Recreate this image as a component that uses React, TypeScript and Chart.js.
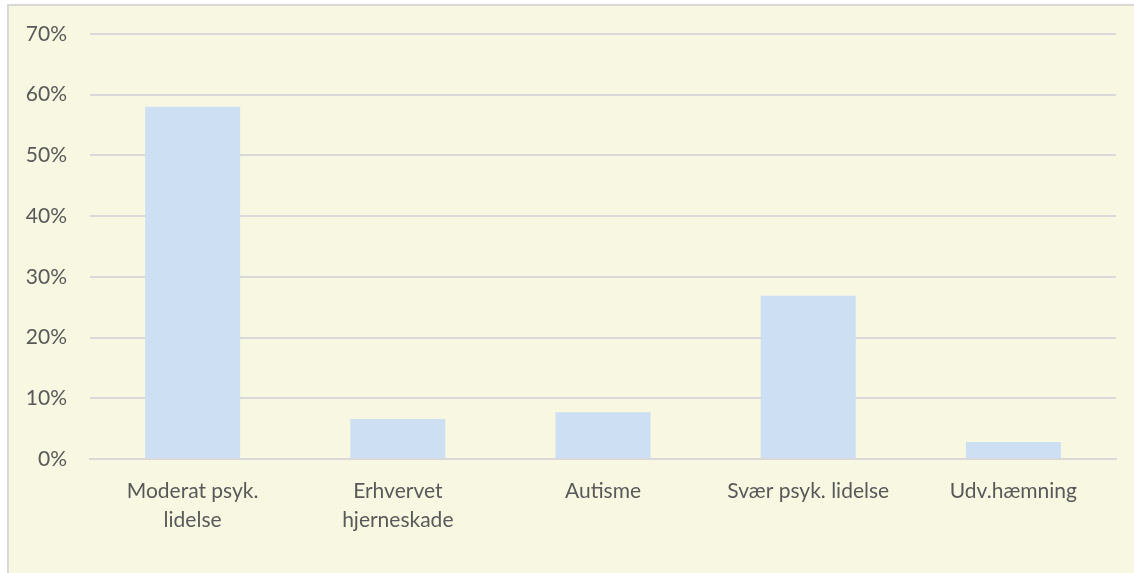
import React, { useEffect, useRef } from "react";
import { Chart, registerables } from "chart.js";

Chart.register(...registerables);

const categories: (string | string[])[] = [
  ["Moderat psyk.", "lidelse"],
  ["Erhvervet", "hjerneskade"],
  "Autisme",
  "Svær psyk. lidelse",
  "Udv.hæmning",
];
const shares: number[] = [58, 6.6, 7.7, 26.9, 2.8];
const yTickMax = 70;
const yTickStep = 10;

export default function App() {
  const ref = useRef<HTMLCanvasElement | null>(null);
  useEffect(() => {
    if (!ref.current) return;
    const chart = new Chart(ref.current, {
      type: "bar",
      data: {
        labels: categories,
        datasets: [
          {
            data: shares,
            backgroundColor: "#cddff2",
            borderWidth: 0,
            barPercentage: 0.463,
            categoryPercentage: 1,
          },
        ],
      },
      options: {
        animation: false,
        responsive: false,
        maintainAspectRatio: false,
        layout: { padding: { top: 28, right: 18, bottom: 0, left: 0 } },
        plugins: { legend: { display: false }, tooltip: { enabled: false } },
        scales: {
          x: {
            grid: { display: false },
            border: { display: true, color: "#d9d9d9", width: 2 },
            ticks: {
              color: "#595959",
              font: { family: "Lato", size: 21, lineHeight: 1.42 },
              padding: 9,
              maxRotation: 0,
              autoSkip: false,
            },
            afterFit: (s: any) => {
              s.height = 114;
            },
          },
          y: {
            min: 0,
            max: yTickMax,
            grid: { color: "#d9d9d9", lineWidth: 2, drawTicks: false },
            border: { display: false },
            ticks: {
              stepSize: yTickStep,
              color: "#595959",
              font: { family: "Lato", size: 21, lineHeight: 0.2 },
              padding: 23,
              callback: (v: any) => v + "%",
            },
            afterFit: (s: any) => {
              s.width = 81;
            },
          },
        },
      },
    });
    return () => chart.destroy();
  }, []);
  return (
    <div
      style={{
        position: "fixed",
        left: 0,
        top: 0,
        width: 1134,
        height: 573,
        background: "#ffffff",
        overflow: "hidden",
      }}
    >
      <div
        style={{
          position: "absolute",
          left: 7,
          top: 4,
          width: 1127,
          height: 569,
          background: "#f8f7e1",
          borderLeft: "2px solid #d9d9d9",
          borderTop: "2px solid #d9d9d9",
        }}
      >
        <canvas ref={ref} width={1125} height={567} style={{ display: "block" }} />
      </div>
    </div>
  );
}
